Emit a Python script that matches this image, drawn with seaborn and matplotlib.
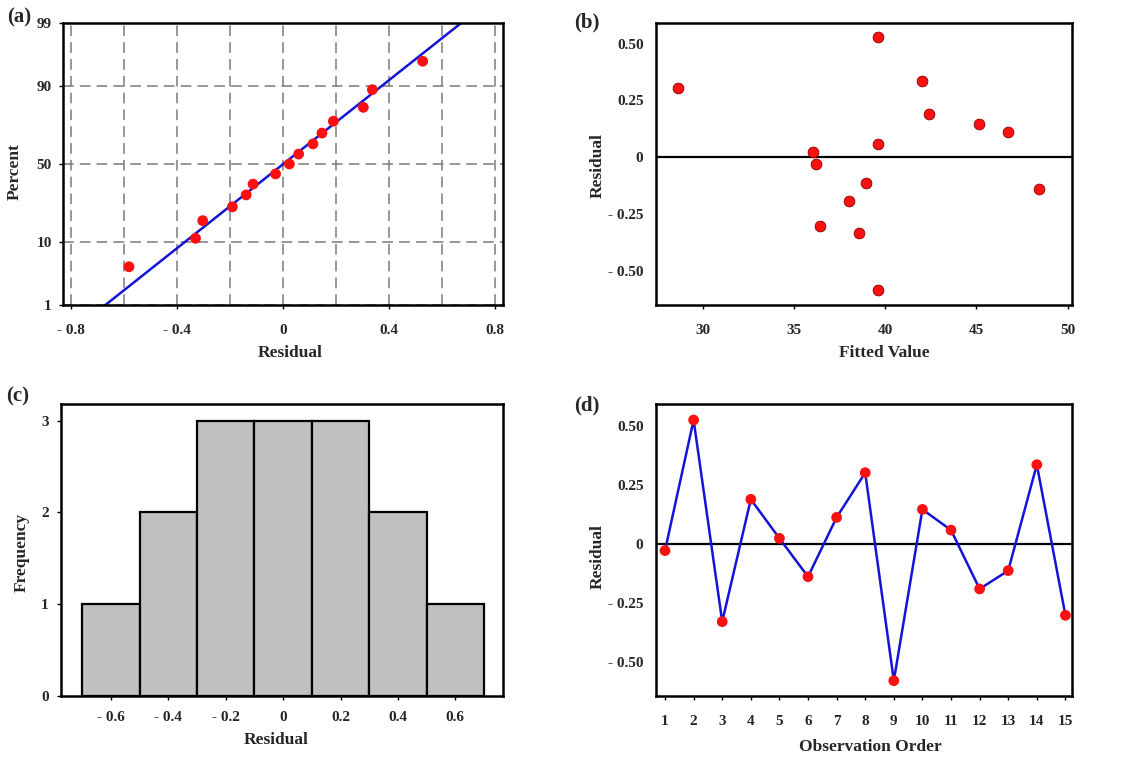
import numpy as np
import pandas as pd
import matplotlib
matplotlib.use("Agg")
import matplotlib.pyplot as plt
import seaborn as sns
from statistics import NormalDist

# ---------------- data ----------------
obs_order = list(range(1, 16))
residuals = [-0.028, 0.527, -0.330, 0.190, 0.024, -0.139, 0.113, 0.303,
             -0.581, 0.147, 0.059, -0.191, -0.113, 0.337, -0.303]
fitted = [36.22, 39.60, 38.57, 42.41, 36.03, 48.41, 46.71, 28.63,
          39.60, 45.17, 39.60, 38.04, 38.96, 42.01, 36.43]
normal_percent = [4.5, 11.0, 17.5, 24.0, 30.5, 37.0, 43.5, 50.0,
                  56.5, 63.0, 69.5, 76.0, 82.5, 89.0, 95.5]
pct_ticks = [1, 10, 50, 90, 99]
a_xticks = [-0.8, -0.4, 0.0, 0.4, 0.8]
a_xlabels = ["- 0.8", "- 0.4", "0", "0.4", "0.8"]
res_ticks = [-0.5, -0.25, 0.0, 0.25, 0.5]
res_labels = ["- 0.50", "- 0.25", "0", "0.25", "0.50"]
fit_ticks = [30, 35, 40, 45, 50]
hist_xticks = [-0.6, -0.4, -0.2, 0.0, 0.2, 0.4, 0.6]
hist_xlabels = ["- 0.6", "- 0.4", "- 0.2", "0", "0.2", "0.4", "0.6"]
hist_yticks = [0, 1, 2, 3]

# ---------------- style ----------------
sns.set_theme(style="white")
plt.rcParams['font.family'] = ['Liberation Serif', 'DejaVu Serif']
plt.rcParams['font.weight'] = 'bold'
plt.rcParams['axes.labelweight'] = 'bold'

W, H = 1124, 758
fig = plt.figure(figsize=(W / 100, H / 100), dpi=100)
fig.patch.set_facecolor('white')


def add_ax(left, top, right, bottom):
    return fig.add_axes([left / W, 1 - bottom / H, (right - left) / W, (bottom - top) / H])


def style_ax(ax, ypad, xpad=10):
    ax.set_facecolor('white')
    for s in ax.spines.values():
        s.set_visible(True)
        s.set_linewidth(1.8)
        s.set_color('black')
    ax.tick_params(axis='both', which='major', direction='out', length=3,
                   width=1, color='black', labelsize=11, bottom=True, left=True)
    ax.tick_params(axis='x', pad=xpad)
    ax.tick_params(axis='y', pad=ypad)
    for lab in ax.get_xticklabels() + ax.get_yticklabels():
        lab.set_fontweight('bold')


def place_labels(ax, xlab, ylab, xpos, ypos, fs=12.5):
    ax.set_xlabel(xlab, fontsize=fs, fontweight='bold')
    ax.set_ylabel(ylab, fontsize=fs, fontweight='bold')
    ax.xaxis.label.set_verticalalignment('center')
    ax.yaxis.label.set_verticalalignment('center')
    ax.xaxis.set_label_coords(*xpos)
    ax.yaxis.set_label_coords(*ypos)


nd = NormalDist()
blue = '#1414d8'

# ---------------- (a) normal probability plot ----------------
axA = add_ax(63, 23, 503, 305)
z_pct = [nd.inv_cdf(p / 100) for p in normal_percent]
res_sorted = sorted(residuals)
mu = float(np.mean(residuals))
sd = float(np.std(residuals, ddof=1))
z_line = np.array([nd.inv_cdf(0.005), nd.inv_cdf(0.995)])
axA.set_xticks(a_xticks, a_xlabels)
axA.set_xticks([-0.6, -0.2, 0.2, 0.6], minor=True)
axA.set_yticks([nd.inv_cdf(p / 100) for p in pct_ticks], [str(p) for p in pct_ticks])
axA.grid(True, which='both', axis='both', color='#7a7a7a', linestyle=(0, (7, 4)), linewidth=1.1)
axA.set_axisbelow(True)
axA.tick_params(axis='x', which='minor', length=0)
sns.lineplot(x=mu + sd * z_line, y=z_line, color=blue, linewidth=1.8, ax=axA, zorder=2)
sns.scatterplot(x=res_sorted, y=z_pct, color='#ff1010', s=60, edgecolor='none', ax=axA, zorder=3)
axA.set_xlim(-0.83, 0.83)
axA.set_ylim(nd.inv_cdf(0.01), nd.inv_cdf(0.99))
style_ax(axA, 5, 11)
place_labels(axA, "Residual", "Percent", (0.516, -0.17), (-0.109, 0.472))

# ---------------- (b) residual vs fitted ----------------
axB = add_ax(656, 23, 1072, 305)
axB.axhline(0, color='black', linewidth=1.6, zorder=1)
sns.scatterplot(x=fitted, y=residuals, color='#ff1010', s=60, edgecolor='#8a0000',
                linewidth=0.6, ax=axB, zorder=3)
axB.set_xticks(fit_ticks, [str(t) for t in fit_ticks])
axB.set_yticks(res_ticks, res_labels)
axB.set_xlim(27.44, 50.24)
axB.set_ylim(-0.648, 0.59)
axB.grid(False)
style_ax(axB, 9, 11)
axB.tick_params(axis='y', length=0)
place_labels(axB, "Fitted Value", "Residual", (0.55, -0.17), (-0.139, 0.496))

# ---------------- (c) histogram ----------------
axC = add_ax(61, 404, 503, 696)
bins = np.round(np.arange(-0.7, 0.71, 0.2), 2)
sns.histplot(x=residuals, bins=bins, color='#c0c0c0', edgecolor='black',
             linewidth=1.6, alpha=1.0, ax=axC)
axC.set_xticks(hist_xticks, hist_xlabels)
axC.set_yticks(hist_yticks, [str(t) for t in hist_yticks])
axC.set_xlim(-0.774, 0.766)
axC.set_ylim(0, 3.18)
axC.grid(False)
style_ax(axC, 6, 8)
place_labels(axC, "Residual", "Frequency", (0.486, -0.151), (-0.088, 0.49))

# ---------------- (d) residual vs order ----------------
axD = add_ax(656, 404, 1072, 696)
axD.axhline(0, color='black', linewidth=1.6, zorder=1)
sns.lineplot(x=obs_order, y=residuals, color=blue, linewidth=1.8, ax=axD, zorder=2)
sns.scatterplot(x=obs_order, y=residuals, color='#ff1010', s=60, edgecolor='none', ax=axD, zorder=3)
axD.set_xticks(obs_order, [str(t) for t in obs_order])
axD.set_yticks(res_ticks, res_labels)
axD.set_xlim(0.685, 15.23)
axD.set_ylim(-0.646, 0.595)
axD.grid(False)
style_ax(axD, 9, 11)
axD.tick_params(axis='y', length=0)
place_labels(axD, "Observation Order", "Residual", (0.514, -0.175), (-0.139, 0.476))

# ---------------- panel letters ----------------
for txt, x, y in [("(a)", 7, 17), ("(b)", 574, 22), ("(c)", 6, 396), ("(d)", 574, 405)]:
    fig.text(x / W, 1 - y / H, txt, ha='left', va='center', fontsize=15, fontweight='bold')

fig.savefig("out.png", dpi=100, facecolor='white')
